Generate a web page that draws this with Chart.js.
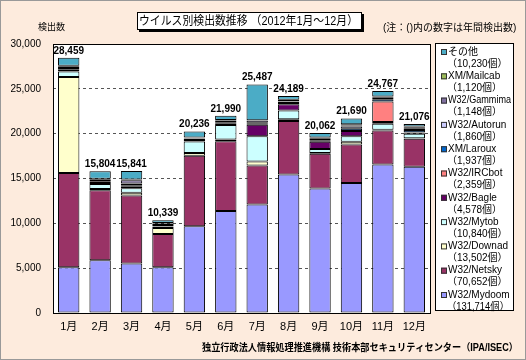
<!DOCTYPE html>
<html lang="ja">
<head>
<meta charset="UTF-8">
<title>ウイルス別検出数推移</title>
<script src="https://cdn.jsdelivr.net/npm/chart.js"></script>
<style>
  html, body { margin: 0; padding: 0; background: #fdebdd; }
  #wrap { width: 526px; height: 360px; }
</style>
</head>
<body>
<div id="wrap"><canvas id="virusChart" width="526" height="360"></canvas></div>
<script>
// months and monthly totals (labels above bars)
const months = ['1月', '2月', '3月', '4月', '5月', '6月', '7月', '8月', '9月', '10月', '11月', '12月'];
const monthTotals = [28459, 15804, 15841, 10339, 20236, 21990, 25487, 24189, 20062, 21690, 24767, 21076];

// series values (bottom of stack first)
const mydoom  = [5100, 5880, 5510, 5100, 9680, 11380, 12100, 15450, 13880, 14510, 16560, 16300];
const netsky  = [10525, 7810, 7590, 3720, 7860, 7780, 4350, 5950, 3870, 4290, 3800, 3120];
const downad  = [10700, 150, 300, 650, 300, 200, 450, 200, 100, 300, 80, 70];
const mytob   = [600, 560, 520, 150, 1300, 1600, 2800, 970, 450, 600, 670, 500];
const bagle   = [200, 100, 150, 50, 150, 150, 1300, 700, 800, 600, 190, 150];
const ircbot  = [10, 5, 5, 5, 5, 5, 5, 5, 5, 9, 2290, 10];
const laroux  = [200, 180, 170, 150, 150, 150, 100, 150, 150, 250, 250, 250];
const autorun = [100, 150, 200, 100, 50, 150, 100, 150, 150, 250, 150, 200];
const gammima = [80, 80, 350, 50, 50, 60, 260, 50, 80, 100, 60, 60];
const mailcab = [60, 60, 80, 50, 40, 50, 40, 150, 80, 150, 100, 140];
const others  = [884, 829, 966, 314, 651, 465, 3982, 414, 497, 631, 617, 276];

// legend names and yearly counts, same order as the stack
const seriesNames = ['W32/Mydoom', 'W32/Netsky', 'W32/Downad', 'W32/Mytob', 'W32/Bagle', 'W32/IRCbot',
                     'XM/Laroux', 'W32/Autorun', 'W32/Gammima', 'XM/Mailcab', 'その他'];
const yearlyCounts = [131714, 70652, 13502, 10840, 4578, 2359, 1937, 1860, 1148, 1120, 10230];
const seriesData = [mydoom, netsky, downad, mytob, bagle, ircbot, laroux, autorun, gammima, mailcab, others];
const seriesColors = ['#9999ff', '#993366', '#ffffcc', '#ccffff', '#660066', '#ff8080',
                      '#0066cc', '#ccccff', '#7f6f9f', '#9bbb59', '#4bacc6'];

const FONT = "'Liberation Sans', 'Noto Sans CJK JP', sans-serif";

const decor = {
  id: 'decor',
  beforeDraw(chart) {
    const ctx = chart.ctx, a = chart.chartArea;
    ctx.save();
    ctx.fillStyle = '#fdebdd';
    ctx.fillRect(0, 0, chart.width, chart.height);
    ctx.fillStyle = '#ffffff';
    ctx.fillRect(a.left, a.top, a.right - a.left, a.bottom - a.top);
    ctx.restore();
  },
  afterDraw(chart) {
    const ctx = chart.ctx, a = chart.chartArea;
    const x = chart.scales.x, y = chart.scales.y;
    ctx.save();

    // plot frame
    ctx.strokeStyle = '#000';
    ctx.lineWidth = 1;
    ctx.strokeRect(a.left + 0.5, a.top + 0.5, a.right - a.left, a.bottom - a.top);

    // totals above bars
    ctx.fillStyle = '#000';
    ctx.font = 'bold 10px ' + FONT;
    ctx.textAlign = 'center';
    ctx.textBaseline = 'bottom';
    months.forEach((m, i) => {
      const sum = seriesData.reduce((s, arr) => s + arr[i], 0);
      ctx.fillText(monthTotals[i].toLocaleString('en-US'), x.getPixelForValue(i), y.getPixelForValue(sum) - 2);
    });

    // title box with shadow
    ctx.fillStyle = '#000';
    ctx.fillRect(139, 14, 225, 18);
    ctx.fillStyle = '#fff';
    ctx.fillRect(137, 12, 225, 18);
    ctx.strokeStyle = '#000';
    ctx.strokeRect(137.5, 12.5, 224, 17);
    ctx.fillStyle = '#000';
    ctx.font = '12px ' + FONT;
    ctx.textAlign = 'left';
    ctx.textBaseline = 'middle';
    ctx.fillText('ウイルス別検出数推移 （2012年1月～12月）', 139, 21.5, 219);

    // note and axis title
    ctx.font = '10px ' + FONT;
    ctx.fillText('(注：()内の数字は年間検出数)', 383, 28.5, 141);
    ctx.font = '9px ' + FONT;
    ctx.fillText('検出数', 38, 27.5);

    // legend
    ctx.fillStyle = '#fff';
    ctx.fillRect(435, 43, 78, 267);
    ctx.strokeStyle = '#000';
    ctx.strokeRect(435.5, 43.5, 78, 267);
    ctx.font = '10px ' + FONT;
    for (let k = 0; k < seriesNames.length; k++) {
      const idx = seriesNames.length - 1 - k;
      const ly = 52 + k * 24.3;
      ctx.fillStyle = seriesColors[idx];
      ctx.fillRect(441, ly - 3, 6, 6);
      ctx.strokeStyle = '#333';
      ctx.strokeRect(441.5, ly - 2.5, 5, 5);
      ctx.fillStyle = '#000';
      ctx.fillText(seriesNames[idx], 448, ly, 63);
      ctx.fillText('（' + yearlyCounts[idx].toLocaleString('en-US') + '個）', 447, ly + 12, 62);
    }

    // footer
    ctx.font = 'bold 10px ' + FONT;
    ctx.textAlign = 'right';
    ctx.fillText('独立行政法人情報処理推進機構 技術本部セキュリティセンター（IPA/ISEC）', 518, 348.5, 316);

    // outer border
    ctx.strokeStyle = '#999';
    ctx.strokeRect(0.5, 0.5, chart.width - 1, chart.height - 1);
    ctx.restore();
  }
};

new Chart(document.getElementById('virusChart'), {
  type: 'bar',
  data: {
    labels: months,
    datasets: seriesNames.map((name, i) => ({
      label: name,
      data: seriesData[i],
      backgroundColor: seriesColors[i],
      borderColor: '#000',
      borderWidth: 1,
      borderSkipped: false,
      barPercentage: 0.68,
      categoryPercentage: 1.0
    }))
  },
  options: {
    responsive: false,
    devicePixelRatio: 1,
    animation: false,
    layout: { padding: { left: 0, right: 96, top: 44, bottom: 0 } },
    plugins: { legend: { display: false }, title: { display: false }, tooltip: { enabled: false } },
    scales: {
      x: {
        stacked: true,
        grid: { display: false, drawTicks: false },
        border: { display: false },
        ticks: { color: '#000', font: { size: 11, family: FONT }, padding: 7 },
        afterFit: s => { s.height = 47; }
      },
      y: {
        stacked: true,
        min: 0,
        max: 30000,
        grid: { color: '#555', drawTicks: false },
        border: { display: false, dash: [3, 3] },
        ticks: {
          stepSize: 5000,
          color: '#000',
          font: { size: 10, family: FONT },
          padding: 12,
          callback: v => v.toLocaleString('en-US')
        },
        afterFit: s => { s.width = 53; }
      }
    }
  },
  plugins: [decor]
});
</script>
</body>
</html>
